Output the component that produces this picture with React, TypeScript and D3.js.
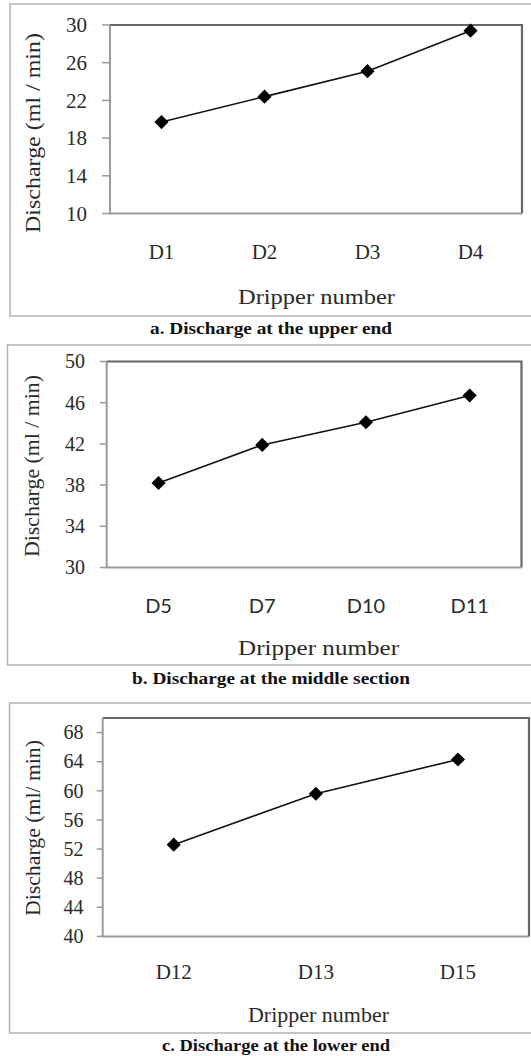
import React from "react";
import * as d3 from "d3";

// Upper end drippers
const upperDrippers = ["D1", "D2", "D3", "D4"];
const upperDischarge = [19.7, 22.4, 25.1, 29.4];
const upperTicks = [10, 14, 18, 22, 26, 30];

// Middle section drippers
const middleDrippers = ["D5", "D7", "D10", "D11"];
const middleDischarge = [38.2, 41.9, 44.1, 46.7];
const middleTicks = [30, 34, 38, 42, 46, 50];

// Lower end drippers
const lowerDrippers = ["D12", "D13", "D15"];
const lowerDischarge = [52.6, 59.6, 64.3];
const lowerTicks = [40, 44, 48, 52, 56, 60, 64, 68];

const SERIF = "'Liberation Serif', 'Times New Roman', serif";
const SANS = "Lato, 'Open Sans', sans-serif";

type PanelProps = {
  cats: string[];
  values: number[];
  ticks: number[];
  yDomain: [number, number];
  yTitle: string;
  caption: string;
  frame: { x0: number; y0: number; y1: number };
  plot: { x0: number; x1: number; y0: number; y1: number };
  tickLen: number;
  tickLabelRight: number;
  tickFont: number;
  catFont: number;
  catFamily: string;
  catY: number;
  xTitle: { cx: number; base: number; len: number; size: number };
  yTitleCfg: { cy: number; base: number; len: number; size: number };
  cap: { cx: number; base: number; len: number; size: number };
};

function Panel(p: PanelProps) {
  const x = d3.scalePoint<string>().domain(p.cats).range([p.plot.x0, p.plot.x1]).padding(0.5);
  const y = d3.scaleLinear().domain(p.yDomain).range([p.plot.y1, p.plot.y0]);
  const pts = p.cats.map((c, i) => [x(c) as number, y(p.values[i])] as [number, number]);
  const line = d3.line()(pts) || "";
  const diamond = d3.symbol(d3.symbolSquare, 100)() || "";
  const axisGray = "#9a9a9a";
  const borderGray = "#666";
  return (
    <g>
      {/* outer frame */}
      <rect
        x={p.frame.x0}
        y={p.frame.y0}
        width={540 - p.frame.x0}
        height={p.frame.y1 - p.frame.y0}
        fill="none"
        stroke="#b4b4b4"
        strokeWidth={1.5}
      />
      {/* plot area: top/right border */}
      <path
        d={`M${p.plot.x0},${p.plot.y0}H${p.plot.x1}V${p.plot.y1}`}
        fill="none"
        stroke={borderGray}
        strokeWidth={2.2}
      />
      {/* left and bottom axes */}
      <path
        d={`M${p.plot.x0},${p.plot.y0}V${p.plot.y1}H${p.plot.x1}`}
        fill="none"
        stroke={axisGray}
        strokeWidth={2}
      />
      {p.ticks.map((t) => (
        <g key={t}>
          <line
            x1={p.plot.x0 - p.tickLen}
            x2={p.plot.x0}
            y1={y(t)}
            y2={y(t)}
            stroke={axisGray}
            strokeWidth={1.5}
          />
          <text
            x={p.tickLabelRight}
            y={y(t)}
            dy="0.34em"
            textAnchor="end"
            fontFamily={SERIF}
            fontSize={p.tickFont}
            fill="#2a2a2a"
          >
            {t}
          </text>
        </g>
      ))}
      {p.cats.map((c) => (
        <text
          key={c}
          x={x(c)}
          y={p.catY}
          dy="0.33em"
          textAnchor="middle"
          fontFamily={p.catFamily}
          fontSize={p.catFont}
          fill="#2a2a2a"
        >
          {c}
        </text>
      ))}
      <path d={line} fill="none" stroke="#111" strokeWidth={1.6} />
      {pts.map(([px, py], i) => (
        <path key={i} d={diamond} transform={`translate(${px},${py}) rotate(45)`} fill="#000" />
      ))}
      <text
        x={p.xTitle.cx}
        y={p.xTitle.base}
        textAnchor="middle"
        fontFamily={SERIF}
        fontSize={p.xTitle.size}
        textLength={p.xTitle.len}
        lengthAdjust="spacingAndGlyphs"
        fill="#2a2a2a"
      >
        Dripper number
      </text>
      <text
        transform={`translate(${p.yTitleCfg.base},${p.yTitleCfg.cy}) rotate(-90)`}
        textAnchor="middle"
        fontFamily={SERIF}
        fontSize={p.yTitleCfg.size}
        textLength={p.yTitleCfg.len}
        lengthAdjust="spacingAndGlyphs"
        fill="#2a2a2a"
      >
        {p.yTitle}
      </text>
      <text
        x={p.cap.cx}
        y={p.cap.base}
        textAnchor="middle"
        fontFamily={SERIF}
        fontWeight="bold"
        fontSize={p.cap.size}
        textLength={p.cap.len}
        lengthAdjust="spacingAndGlyphs"
        fill="#111"
      >
        {p.caption}
      </text>
    </g>
  );
}

export default function App() {
  return (
    <svg
      width={531}
      height={1056}
      style={{ position: "absolute", left: 0, top: 0, background: "#fff" }}
    >
      <Panel
        cats={upperDrippers}
        values={upperDischarge}
        ticks={upperTicks}
        yDomain={[10, 30]}
        yTitle="Discharge (ml / min)"
        caption="a. Discharge at the upper end"
        frame={{ x0: 10, y0: 4, y1: 316 }}
        plot={{ x0: 110, x1: 522, y0: 25, y1: 213.5 }}
        tickLen={8}
        tickLabelRight={87}
        tickFont={21}
        catFont={21}
        catFamily={SERIF}
        catY={252}
        xTitle={{ cx: 316.5, base: 304, len: 157, size: 21 }}
        yTitleCfg={{ cy: 133, base: 40, len: 200, size: 21 }}
        cap={{ cx: 271, base: 334, len: 242, size: 16 }}
      />
      <Panel
        cats={middleDrippers}
        values={middleDischarge}
        ticks={middleTicks}
        yDomain={[30, 50]}
        yTitle="Discharge (ml / min)"
        caption="b. Discharge at the middle section"
        frame={{ x0: 7.5, y0: 345, y1: 665 }}
        plot={{ x0: 106.7, x1: 521.5, y0: 361.5, y1: 567.5 }}
        tickLen={7}
        tickLabelRight={85}
        tickFont={20}
        catFont={20}
        catFamily={SANS}
        catY={606}
        xTitle={{ cx: 318.5, base: 655, len: 161, size: 20 }}
        yTitleCfg={{ cy: 466, base: 39, len: 182, size: 20 }}
        cap={{ cx: 271, base: 684, len: 278, size: 17 }}
      />
      <Panel
        cats={lowerDrippers}
        values={lowerDischarge}
        ticks={lowerTicks}
        yDomain={[40, 70]}
        yTitle="Discharge (ml/ min)"
        caption="c. Discharge at the lower end"
        frame={{ x0: 9.5, y0: 703, y1: 1033 }}
        plot={{ x0: 102.7, x1: 529, y0: 718, y1: 936.4 }}
        tickLen={6}
        tickLabelRight={83.5}
        tickFont={20}
        catFont={21}
        catFamily={SERIF}
        catY={972}
        xTitle={{ cx: 318.5, base: 1021.5, len: 141, size: 20 }}
        yTitleCfg={{ cy: 828, base: 40, len: 176, size: 20 }}
        cap={{ cx: 276, base: 1051, len: 228, size: 16 }}
      />
    </svg>
  );
}
